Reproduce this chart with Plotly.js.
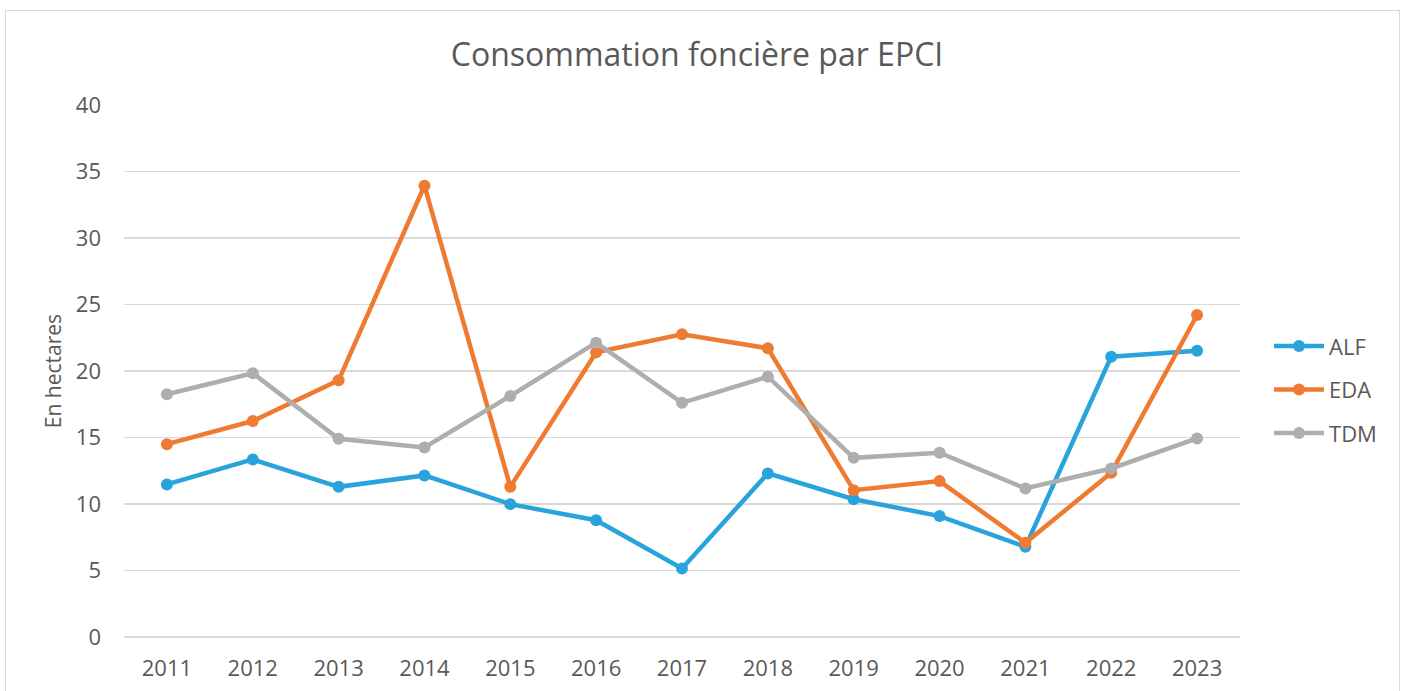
<!DOCTYPE html>
<html>
<head>
<meta charset="utf-8">
<script src="https://cdn.plot.ly/plotly-3.0.1.min.js"></script>
<style>
  html, body { margin: 0; padding: 0; background: #ffffff; }
  #wrap { position: relative; width: 1405px; height: 691px; overflow: hidden; }
  #chart { width: 1405px; height: 691px; }
  #frame { position: absolute; left: 5px; top: 10px; width: 1395px; height: 700px;
           border: 1px solid #D9D9D9; pointer-events: none; box-sizing: border-box; }
</style>
</head>
<body>
<div id="wrap">
  <div id="chart"></div>
  <div id="frame"></div>
</div>
<script>
const years = ['2011','2012','2013','2014','2015','2016','2017','2018','2019','2020','2021','2022','2023'];
const alf = [11.47, 13.35, 11.29, 12.15, 9.99, 8.78, 5.15, 12.3, 10.36, 9.09, 6.78, 21.08, 21.53];
const eda = [14.5, 16.24, 19.3, 33.93, 11.29, 21.4, 22.76, 21.71, 11.04, 11.72, 7.08, 12.35, 24.21];
const tdm = [18.25, 19.83, 14.9, 14.25, 18.12, 22.13, 17.61, 19.57, 13.47, 13.85, 11.17, 12.67, 14.93];
const seriesNames = ['ALF', 'EDA', 'TDM'];
const seriesColors = ['#29A3DC', '#EF7A31', '#AEAEAE'];
const yTicks = [0, 5, 10, 15, 20, 25, 30, 35, 40];

const font = 'Open Sans, Lato, DejaVu Sans, sans-serif';
const textColor = '#595959';

const traces = [alf, eda, tdm].map((vals, i) => ({
  x: years,
  y: vals,
  name: seriesNames[i],
  legendgroup: 'g' + i,
  type: 'scatter',
  mode: 'lines+markers',
  line: { color: seriesColors[i], width: 4.5 },
  marker: { color: seriesColors[i], size: 12 },
  cliponaxis: false,
  hoverinfo: 'x+y+name'
}));

const layout = {
  width: 1405,
  height: 691,
  margin: { l: 124, r: 165, t: 105, b: 54, pad: 0 },
  paper_bgcolor: '#ffffff',
  plot_bgcolor: '#ffffff',
  font: { family: font, color: textColor, size: 22 },
  title: {
    text: 'Consommation foncière par EPCI',
    font: { family: font, size: 32, color: textColor },
    x: 697 / 1405, xanchor: 'center', xref: 'container',
    y: 1 - 55 / 691, yanchor: 'middle', yref: 'container'
  },
  showlegend: true,
  legend: {
    x: 1.026, xanchor: 'left',
    y: 0.465, yanchor: 'middle',
    font: { family: font, size: 22, color: textColor },
    itemwidth: 50,
    tracegroupgap: 12,
    bgcolor: 'rgba(0,0,0,0)'
  },
  xaxis: {
    type: 'category',
    range: [-0.5, 12.5],
    showgrid: false,
    showline: false,
    zeroline: false,
    ticks: '',
    ticklabelstandoff: 16,
    tickfont: { family: font, size: 22, color: textColor },
    fixedrange: true
  },
  yaxis: {
    range: [0, 40],
    tickvals: yTicks,
    ticktext: yTicks.map(String),
    showgrid: true,
    gridcolor: '#D9D9D9',
    gridwidth: 1.3,
    zeroline: true,
    zerolinecolor: '#D9D9D9',
    zerolinewidth: 1.3,
    showline: false,
    ticks: '',
    ticklabelstandoff: 22,
    tickfont: { family: font, size: 22, color: textColor },
    title: {
      text: 'En hectares',
      font: { family: font, size: 21, color: textColor },
      standoff: 8
    },
    fixedrange: true
  }
};

Plotly.newPlot('chart', traces, layout, { staticPlot: true, displayModeBar: false });
</script>
</body>
</html>
